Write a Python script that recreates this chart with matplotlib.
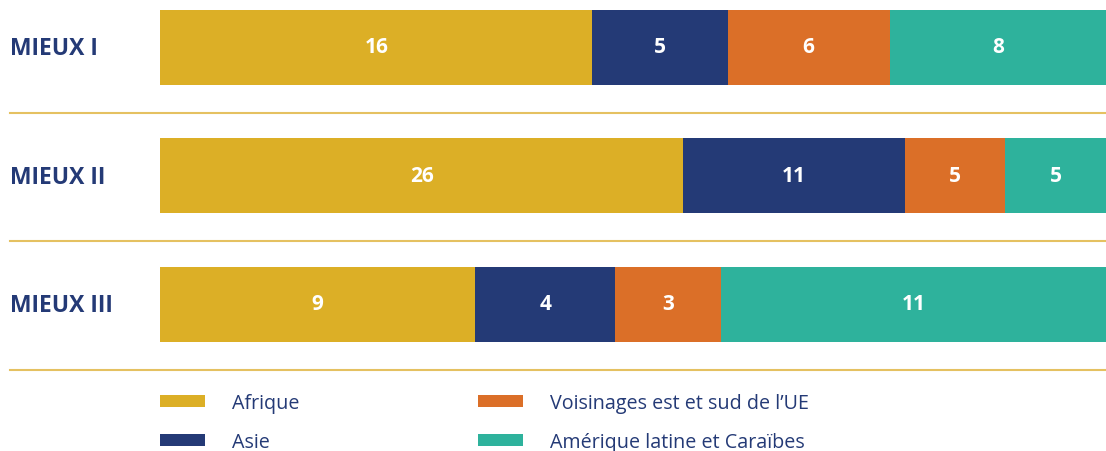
import matplotlib
matplotlib.use("Agg")
import matplotlib.pyplot as plt
from matplotlib.patches import Patch
import numpy as np

plt.rcParams["font.family"] = ["Open Sans", "DejaVu Sans"]

# Data
programmes = ["MIEUX I", "MIEUX II", "MIEUX III"]
regions = ["Afrique", "Asie", "Voisinages est et sud de l\u2019UE",
           "Amérique latine et Caraïbes"]
counts = {
    "Afrique": [16, 26, 9],
    "Asie": [5, 11, 4],
    "Voisinages est et sud de l\u2019UE": [6, 5, 3],
    "Amérique latine et Caraïbes": [8, 5, 11],
}
colors = ["#DCAF26", "#243A76", "#DB6F28", "#2EB29C"]

NAVY = "#243A76"
GOLD_LINE = "#E5C161"

W, H = 1106, 452
fig = plt.figure(figsize=(W / 100, H / 100), dpi=100)

# Bars axes: x from 160px to right edge, rows spaced 128.5px
left_px = 160
ax = fig.add_axes([left_px / W, 0, 1 - left_px / W, 1])
row_px = 128.5
first_center = 48
ax.set_ylim((H - first_center) / row_px, -first_center / row_px)
ax.set_xlim(0, 1)
ax.axis("off")

data = np.array([counts[r] for r in regions], dtype=float)
totals = data.sum(axis=0)
shares = data / totals
y = np.arange(len(programmes))
bar_h = 75 / row_px

left = np.zeros(len(programmes))
for i, region in enumerate(regions):
    ax.barh(y, shares[i], left=left, height=bar_h, color=colors[i],
            edgecolor="none", label=region)
    for j in range(len(programmes)):
        ax.text(left[j] + shares[i][j] / 2, y[j], f"{int(data[i][j])}",
                ha="center", va="center", color="white", fontsize=15,
                fontweight="bold")
    left += shares[i]

# Row labels
for j, name in enumerate(programmes):
    ax.text(-150 / (W - left_px), y[j] + 0.01, name, ha="left", va="center",
            color=NAVY, fontsize=16.5, fontweight="bold", clip_on=False)

# Separator lines
line_start = -150 / (W - left_px)
for j in range(len(programmes)):
    ax.axhline(y[j] + 0.51, xmin=line_start, xmax=1, color=GOLD_LINE,
               linewidth=1.5, clip_on=False)

# Legend
handles = [Patch(facecolor=c, edgecolor="none") for c in colors]
leg = fig.legend(handles, regions, ncol=2, loc="upper left",
                 bbox_to_anchor=(160 / W, 1 - 394 / H), frameon=False,
                 fontsize=14.2, handlelength=2.3, handleheight=0.6,
                 handletextpad=1.35, columnspacing=9.05, labelspacing=0.95,
                 borderpad=0, borderaxespad=0)
for t in leg.get_texts():
    t.set_color(NAVY)

fig.savefig("out.png", dpi=100)
